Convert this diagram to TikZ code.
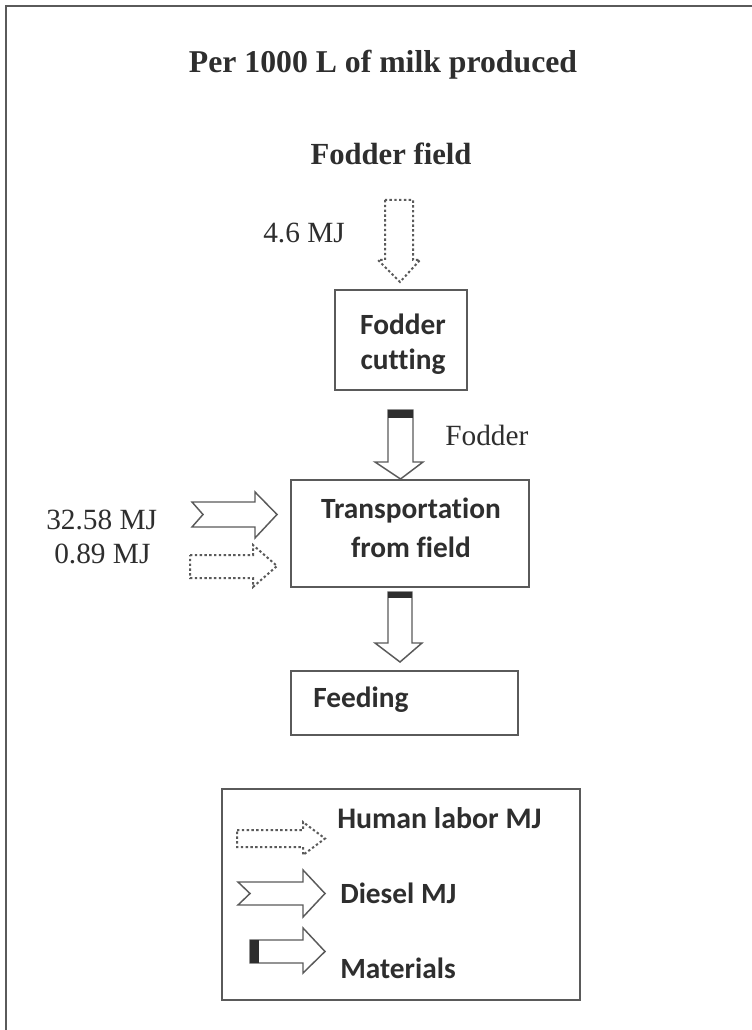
\documentclass[tikz,border=0pt]{standalone}
\usepackage{fontspec}
\setmainfont{Liberation Serif}
\newfontfamily\calfont[Ligatures=NoCommon]{Carlito}
\definecolor{ink}{HTML}{2E2E2E}
\definecolor{edge}{HTML}{5A5A5A}
\begin{document}
\begin{tikzpicture}[x=0.75pt,y=-0.75pt,
  boxst/.style={draw=edge, line width=1.2pt, rectangle, inner sep=0pt},
  sertxt/.style={text=ink, inner sep=0pt, font=\fontsize{22}{26}\selectfont},
  sertitle/.style={text=ink, inner sep=0pt, font=\fontsize{23}{27}\selectfont\bfseries},
  caltxt/.style={text=ink, inner sep=0pt, font=\fontsize{22}{26}\selectfont\calfont\bfseries},
  blockarrow/.style={draw=edge, line width=1.1pt, fill=white, line join=miter},
  laborarrow/.style={draw=edge, line width=1.5pt, dash pattern=on 1.8pt off 1.8pt},
  capfill/.style={fill=ink, draw=none}]
\useasboundingbox (0,0) rectangle (752,1030);
\fill[white] (0,0) rectangle (752,1030);
% outer frame (top and left)
\draw[edge, line width=1.3pt] (6,1030) -- (6,6) -- (752,6);

% titles
\node[sertitle, anchor=base, font=\fontsize{23.8}{28}\selectfont\bfseries] (title) at (383,73) {Per 1000 L of milk produced};
\node[sertitle, anchor=base] (field) at (391,165) {Fodder field};

% boxes
\node[boxst, minimum width=99pt, minimum height=75pt] (cut) at (401,340) {};
\node[caltxt, anchor=base] (cutA) at (403,334) {Fodder};
\node[caltxt, anchor=base] (cutB) at (403,369) {cutting};

\node[boxst, minimum width=178.5pt, minimum height=80.25pt] (trans) at (410,533.5) {};
\node[caltxt, anchor=base] (transA) at (411,518) {Transportation};
\node[caltxt, anchor=base] (transB) at (411,557) {from field};

\node[boxst, minimum width=170.25pt, minimum height=48pt] (feed) at (404.5,703) {};
\node[caltxt, anchor=base west] (feedT) at (313,707) {Feeding};

% labels
\node[sertxt, anchor=base west] (l46) at (263,243) {4.6 MJ};
\node[sertxt, anchor=base west] (lfod) at (445,445) {Fodder};
\node[sertxt, anchor=base west] (l3258) at (46,529) {32.58 MJ};
\node[sertxt, anchor=base west] (l089) at (54,563) {0.89 MJ};

% human labor arrow down (field -> cutting)
\draw[laborarrow] (385,200) -- (385,260) -- (378,260) -- (400,282) -- (420,260) -- (413,260) -- (413,200) -- cycle;

% materials arrow (cutting -> transportation)
\draw[blockarrow] (388,410) -- (388,462) -- (375,462) -- (400.5,479) -- (423,462) -- (413,462) -- (413,410) -- cycle;
\fill[capfill] (388,410) rectangle (413,418);

% diesel arrow into transportation
\draw[blockarrow] (192,502) -- (255,502) -- (255,492) -- (277,514.5) -- (255,538) -- (255,527) -- (192,527) -- (203,514.5) -- cycle;
% human labor arrow into transportation
\draw[laborarrow] (190,555) -- (253,555) -- (253,545) -- (277,566) -- (253,587) -- (253,578) -- (190,578) -- cycle;

% materials arrow (transportation -> feeding)
\draw[blockarrow] (388,592) -- (388,643) -- (375,643) -- (400,662) -- (422,643) -- (412,643) -- (412,592) -- cycle;
\fill[capfill] (388,592) rectangle (412,598);

% legend
\node[boxst, minimum width=268.5pt, minimum height=158.25pt] (legend) at (401,894.5) {};
\draw[laborarrow] (237,830) -- (303,830) -- (303,822) -- (325,838.5) -- (303,855) -- (303,847) -- (237,847) -- cycle;
\node[caltxt, anchor=base west, font=\fontsize{22.4}{26}\selectfont\calfont\bfseries] (lgHL) at (337,828) {Human labor MJ};
\draw[blockarrow] (238,882) -- (303,882) -- (303,870) -- (325,893.5) -- (303,917) -- (303,905) -- (238,905) -- (250,893.5) -- cycle;
\node[caltxt, anchor=base west] (lgD) at (340,903) {Diesel MJ};
\draw[blockarrow] (250,940) -- (303,940) -- (303,928) -- (325,951.5) -- (303,973) -- (303,963) -- (250,963) -- cycle;
\fill[capfill] (250,940) rectangle (259,963);
\node[caltxt, anchor=base west] (lgM) at (340,978) {Materials};
\end{tikzpicture}
\end{document}
